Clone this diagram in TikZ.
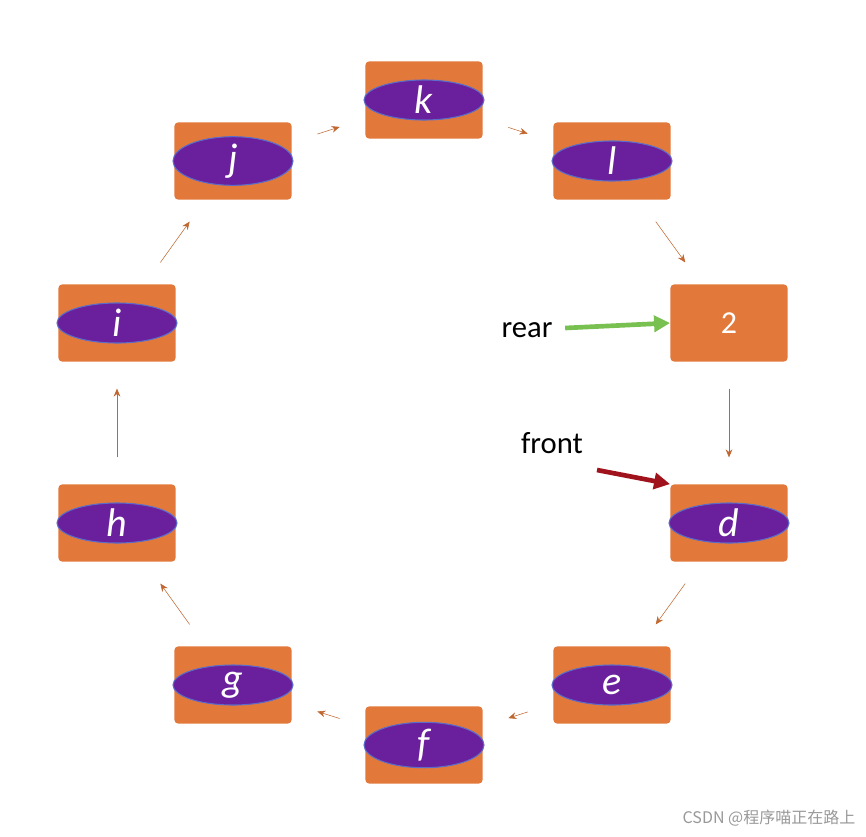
\documentclass[tikz,border=0pt]{standalone}
\usepackage{fontspec}
\setmainfont{Carlito}
\newfontfamily\cjkfont{Noto Sans CJK SC}
\usetikzlibrary{arrows.meta}
\usetikzlibrary{shapes.geometric}
\usepackage{xcolor}
\definecolor{myorange}{HTML}{E2793A}
\definecolor{mypurple}{HTML}{6A1F9C}
\definecolor{myedge}{HTML}{5B6DC8}
\definecolor{mygreen}{HTML}{78C04F}
\definecolor{mydarkred}{HTML}{A0121C}
\tikzset{
  >=latex,
  cell/.style={fill=myorange,rounded corners=3,minimum width=88,minimum height=58,inner sep=0},
  item/.style={ellipse,fill=mypurple,draw=myedge,thick,minimum width=90,minimum height=30,inner sep=0,
    text=white,font=\fontsize{30}{30}\selectfont\itshape},
  link/.style={-{Stealth[length=6,width=5]},draw=myorange!85!black,thin,shorten <=20,shorten >=20},
  label/.style={font=\fontsize{23}{23}\selectfont}
}
\begin{document}
\begin{tikzpicture}[x=0.75pt,y=-0.75pt]
  \useasboundingbox (0,0) rectangle (866,836);
  \fill[white] (0,0) rectangle (866,836);
  % ring of cells
  \node[cell] (k) at (424,100) {};
  \node[cell] (l) at (612,161) {};
  \node[cell,text=white,font=\fontsize{24}{24}\selectfont] (two) at (729,323) {2};
  \node[cell] (d) at (729,523) {};
  \node[cell] (e) at (612,685) {};
  \node[cell] (f) at (424,745) {};
  \node[cell] (g) at (233,685) {};
  \node[cell] (h) at (117,523) {};
  \node[cell] (i) at (117,323) {};
  \node[cell] (j) at (233,161) {};
  \foreach \n in {k,l,d,e,f,g,h,i,j}
    \node[item] (\n e) at (\n) {\n};
  % connectors
  \draw[link] (k) -- (l);
  \draw[link] (l) -- (two);
  \draw[link] (two) -- (d);
  \draw[link] (d) -- (e);
  \draw[link] (e) -- (f);
  \draw[link] (f) -- (g);
  \draw[link] (g) -- (h);
  \draw[link] (h) -- (i);
  \draw[link] (i) -- (j);
  \draw[link] (j) -- (k);
  % pointers
  \node[label] (rear) at (527,330) {rear};
  \node[label] (front) at (552,443) {front};
  \draw[-{Triangle[length=12,width=12]},mygreen,line width=3.5] (rear.east) ++(8,-2) coordinate (r0) -- (two.west);
  \draw[-{Triangle[length=12,width=12]},mydarkred,line width=3.5] (597,470) coordinate (f0) -- (d.north west);
  \node[text=gray!80,font=\fontsize{12}{12}\selectfont\cjkfont,anchor=east] (mark) at (860,818) {CSDN @程序喵正在路上};
\end{tikzpicture}
\end{document}
